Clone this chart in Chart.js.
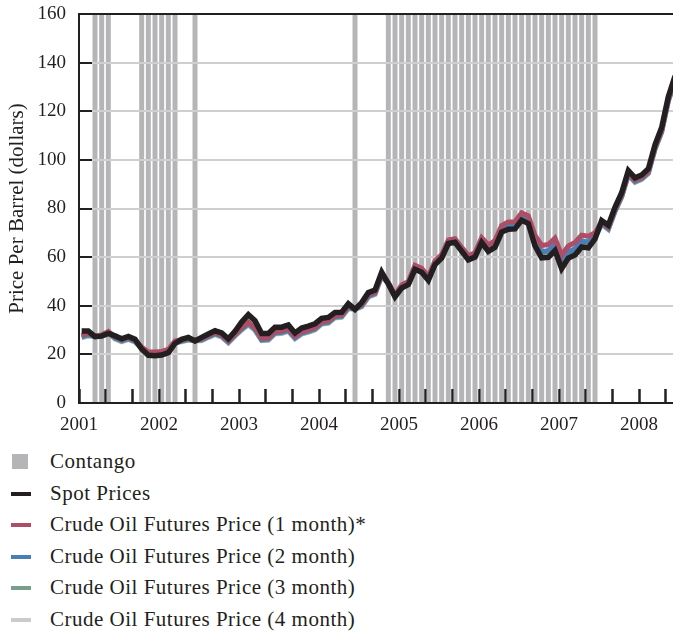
<!DOCTYPE html>
<html>
<head>
<meta charset="utf-8">
<script src="https://cdn.jsdelivr.net/npm/chart.js@4.4.1/dist/chart.umd.min.js"></script>
<style>
  html, body { margin: 0; padding: 0; background: #fff; }
  body { width: 673px; height: 634px; overflow: hidden; position: relative; font-family: "Liberation Serif", "Times New Roman", serif; }
  #wrap { position: absolute; left: 0; top: 0; width: 673px; height: 440px; }
  #legend { list-style: none; margin: 0; padding: 0; position: absolute; left: 0; top: 446px; }
  #legend li { position: relative; height: 31.6px; line-height: 31.6px; padding-left: 50px; font-size: 21px; letter-spacing: 0.5px; color: #231f20; white-space: nowrap; }
  #legend .sw { position: absolute; left: 11px; top: 14px; width: 20px; height: 4px; }
  #legend .sq { position: absolute; left: 12px; top: 8px; width: 16px; height: 15px; }
</style>
</head>
<body>
<div id="wrap"><canvas id="oilChart" width="673" height="440"></canvas></div>
<ul id="legend"></ul>
<script>
// Monthly prices, Jan 2001 .. Jun 2008 (dollars per barrel)
const startYear = 2001;
const yearLabels = ['2001', '2002', '2003', '2004', '2005', '2006', '2007', '2008'];

const spotPrices = [
  29.6, 29.6, 27.3, 27.5, 28.6, 27.6, 26.4, 27.4, 26.2, 22.2, 19.6, 19.4,
  19.7, 20.7, 24.5, 26.2, 27.0, 25.5, 27.0, 28.4, 29.7, 28.8, 26.4, 29.5,
  33.3, 36.3, 33.8, 28.6, 28.6, 31.2, 31.2, 32.1, 28.8, 30.8, 31.6, 32.6,
  34.8, 35.2, 37.2, 37.3, 40.8, 38.5, 41.3, 45.4, 46.4, 53.8, 49.0, 43.7,
  47.3, 48.7, 55.0, 53.8, 50.5, 56.9, 59.6, 65.6, 66.1, 62.5, 58.9, 60.0,
  66.0, 62.4, 64.0, 70.3, 71.5, 71.6, 75.2, 73.8, 64.6, 59.7, 59.9, 62.7,
  55.3, 59.6, 60.9, 64.2, 63.8, 67.5, 75.0, 73.1, 80.5, 86.5, 95.6, 92.6,
  93.8, 96.3, 106.2, 113.3, 126.0, 134.5
];
const futures1m = [
  27.8, 28.6, 27.6, 28.0, 29.4, 27.3, 26.1, 27.0, 25.9, 23.0, 21.0, 21.0,
  21.2, 22.0, 25.5, 26.0, 26.6, 25.8, 26.5, 27.8, 29.0, 28.0, 25.6, 28.4,
  31.0, 33.3, 31.0, 26.6, 26.8, 29.4, 29.6, 30.5, 27.4, 29.3, 30.1, 31.0,
  33.4, 33.8, 36.0, 36.2, 39.8, 38.9, 40.5, 44.5, 45.6, 53.0, 49.5, 44.5,
  48.6, 50.0, 56.6, 55.4, 52.0, 58.4, 61.1, 67.1, 67.6, 64.0, 60.6, 61.8,
  68.0, 65.0, 66.8, 73.0, 74.5, 74.6, 78.2, 77.0, 69.0, 64.8, 65.2, 67.8,
  60.8, 64.6, 66.0, 69.0, 68.6, 70.0, 74.4, 72.3, 79.6, 85.6, 94.6, 91.7,
  92.9, 95.3, 105.2, 112.3, 125.0, 133.5
];
const futures2m = [
  27.3, 28.1, 27.5, 27.8, 29.0, 26.8, 25.7, 26.6, 25.5, 22.6, 20.3, 20.2,
  20.5, 21.4, 25.0, 25.6, 26.2, 25.7, 26.1, 27.4, 28.6, 27.6, 25.2, 28.0,
  30.5, 32.8, 30.5, 26.1, 26.3, 28.9, 29.1, 30.0, 26.9, 28.8, 29.6, 30.5,
  32.9, 33.3, 35.5, 35.7, 39.3, 38.7, 40.0, 44.0, 45.1, 52.5, 49.3, 44.1,
  47.9, 49.3, 55.8, 54.6, 51.2, 57.6, 60.3, 66.3, 66.8, 63.2, 59.7, 60.9,
  67.0, 63.7, 65.4, 71.6, 73.0, 73.1, 76.7, 75.4, 66.8, 62.2, 62.6, 65.2,
  58.0, 62.1, 63.4, 66.6, 66.2, 68.8, 73.9, 71.8, 79.1, 85.1, 94.1, 91.2,
  92.4, 94.8, 104.7, 111.8, 124.5, 133.0
];
const futures3m = [
  27.0, 27.8, 27.4, 27.6, 28.8, 26.5, 25.4, 26.3, 25.2, 22.4, 20.0, 19.8,
  20.1, 21.0, 24.8, 25.4, 26.0, 25.6, 25.8, 27.1, 28.3, 27.3, 24.9, 27.7,
  30.2, 32.4, 30.1, 25.8, 26.0, 28.6, 28.8, 29.7, 26.6, 28.5, 29.3, 30.2,
  32.6, 33.0, 35.2, 35.4, 39.0, 38.6, 39.7, 43.7, 44.8, 52.2, 49.2, 43.9,
  47.6, 49.0, 55.4, 54.2, 50.9, 57.3, 60.0, 66.0, 66.5, 62.9, 59.3, 60.5,
  66.5, 63.0, 64.7, 71.0, 72.2, 72.4, 76.0, 74.6, 65.7, 61.0, 61.2, 64.0,
  56.7, 60.8, 62.2, 65.4, 65.0, 68.1, 73.6, 71.5, 78.8, 84.8, 93.8, 90.9,
  92.1, 94.5, 104.4, 111.5, 124.2, 132.7
];
const futures4m = [
  26.8, 27.6, 27.3, 27.5, 28.7, 26.3, 25.2, 26.1, 25.0, 22.3, 19.8, 19.6,
  19.9, 20.8, 24.6, 25.2, 25.8, 25.5, 25.6, 26.9, 28.1, 27.1, 24.7, 27.5,
  30.0, 32.1, 29.8, 25.6, 25.8, 28.4, 28.6, 29.5, 26.4, 28.3, 29.1, 30.0,
  32.4, 32.8, 35.0, 35.2, 38.8, 38.5, 39.5, 43.5, 44.6, 52.0, 49.1, 43.8,
  47.4, 48.8, 55.2, 54.0, 50.7, 57.1, 59.8, 65.8, 66.3, 62.7, 59.1, 60.2,
  66.2, 62.7, 64.3, 70.6, 71.8, 72.0, 75.5, 74.1, 65.0, 60.2, 60.4, 63.2,
  55.8, 60.1, 61.4, 64.6, 64.2, 67.8, 73.4, 71.3, 78.6, 84.6, 93.6, 90.7,
  91.9, 94.3, 104.2, 111.3, 124.0, 132.5
];
// months (0 = Jan 2001) in contango
const contangoMonths = [
  2, 3, 4, 9, 10, 11, 12, 13, 14, 17, 41,
  46, 47, 48, 49, 50, 51, 52, 53, 54, 55, 56, 57, 58, 59, 60, 61,
  62, 63, 64, 65, 66, 67, 68, 69, 70, 71, 72, 73, 74, 75, 76, 77
];
const yTicks = [0, 20, 40, 60, 80, 100, 120, 140, 160];

const colors = {
  ink: '#231f20',
  spot: '#231f20',
  f1: '#ad4e66',
  f2: '#4a7fb5',
  f3: '#77a088',
  f4: '#cbcbcd',
  contango: '#b5b5b8',
  grid: '#cfcfd0'
};

// x position of a month (decimal year)
const monthX = i => startYear + (i + 0.4) / 12;
const toPoints = arr => arr.map((v, i) => ({ x: monthX(i), y: v }));
const xMax = startYear + 89.1 / 12;

const xTickValues = [];
for (let k = 0; startYear + k / 3 < xMax; k++) xTickValues.push(startYear + k / 3);

function lineSet(label, data, color, order, width) {
  return {
    type: 'line',
    label: label,
    data: toPoints(data),
    borderColor: color,
    backgroundColor: color,
    borderWidth: width || 5,
    pointRadius: 0,
    tension: 0,
    borderJoinStyle: 'miter',
    order: order
  };
}

// grid, tick marks and axes go back over the contango bars
const gridOverBars = {
  id: 'gridOverBars',
  afterDatasetDraw(chart, args) {
    if (args.index !== 0) return;
    const area = chart.chartArea;
    chart.scales.y.drawGrid(area);
    chart.scales.x.drawGrid(area);
    chart.scales.y.drawBorder();
    chart.scales.x.drawBorder();
  }
};

const chart = new Chart(document.getElementById('oilChart').getContext('2d'), {
  type: 'line',
  data: {
    datasets: [
      {
        type: 'bar',
        label: 'Contango',
        data: contangoMonths.map(m => ({ x: monthX(m), y: 160 })),
        backgroundColor: colors.contango,
        borderWidth: 0,
        barThickness: 4.3,
        order: 10
      },
      lineSet('Crude Oil Futures Price (4 month)', futures4m, colors.f4, 5),
      lineSet('Crude Oil Futures Price (3 month)', futures3m, colors.f3, 4),
      lineSet('Crude Oil Futures Price (2 month)', futures2m, colors.f2, 3),
      lineSet('Crude Oil Futures Price (1 month)*', futures1m, colors.f1, 2),
      lineSet('Spot Prices', spotPrices, colors.spot, 1, 5.5)
    ]
  },
  options: {
    responsive: false,
    animation: false,
    layout: { padding: { top: 14, right: 0, left: 0, bottom: 0 } },
    plugins: {
      legend: { display: false },
      tooltip: { enabled: false }
    },
    scales: {
      x: {
        type: 'linear',
        offset: false,
        min: startYear,
        max: xMax,
        afterBuildTicks: s => { s.ticks = xTickValues.map(v => ({ value: v })); },
        afterFit: s => { s.height = 37; s.paddingLeft = 0; s.paddingRight = 0; },
        grid: {
          display: true,
          offset: false,
          drawOnChartArea: false,
          drawTicks: true,
          tickLength: -14,
          tickWidth: 2,
          tickColor: colors.ink
        },
        border: { display: true, color: colors.ink, width: 2 },
        ticks: {
          autoSkip: false,
          maxRotation: 0,
          padding: 25,
          color: colors.ink,
          font: { family: '"Liberation Serif", serif', size: 19 },
          callback: v => {
            const yr = Math.round(v);
            return Math.abs(v - yr) < 0.01 ? yearLabels[yr - startYear] : '';
          }
        }
      },
      y: {
        min: 0,
        max: 160,
        afterBuildTicks: s => { s.ticks = yTicks.map(v => ({ value: v })); },
        afterFit: s => { s.width = 79; s.paddingTop = 0; s.paddingBottom = 0; },
        grid: {
          drawTicks: true,
          tickLength: -13,
          tickWidth: 2,
          tickColor: colors.ink,
          lineWidth: 2,
          color: c => (c.tick && c.tick.value === 160 ? colors.ink : colors.grid)
        },
        border: { display: true, color: colors.ink, width: 2 },
        ticks: {
          padding: 26,
          color: colors.ink,
          font: { family: '"Liberation Serif", serif', size: 19 }
        },
        title: {
          display: true,
          text: 'Price Per Barrel (dollars)',
          color: colors.ink,
          font: { family: '"Liberation Serif", serif', size: 21 },
          padding: { top: 5, bottom: 0 }
        }
      }
    }
  },
  plugins: [gridOverBars]
});

// legend
const legendItems = [
  { label: 'Contango', color: colors.contango, square: true },
  { label: 'Spot Prices', color: colors.spot },
  { label: 'Crude Oil Futures Price (1 month)*', color: colors.f1 },
  { label: 'Crude Oil Futures Price (2 month)', color: colors.f2 },
  { label: 'Crude Oil Futures Price (3 month)', color: colors.f3 },
  { label: 'Crude Oil Futures Price (4 month)', color: colors.f4 }
];
const legendEl = document.getElementById('legend');
legendItems.forEach(item => {
  const li = document.createElement('li');
  const sw = document.createElement('span');
  sw.className = item.square ? 'sq' : 'sw';
  sw.style.background = item.color;
  li.appendChild(sw);
  li.appendChild(document.createTextNode(item.label));
  legendEl.appendChild(li);
});
</script>
</body>
</html>
